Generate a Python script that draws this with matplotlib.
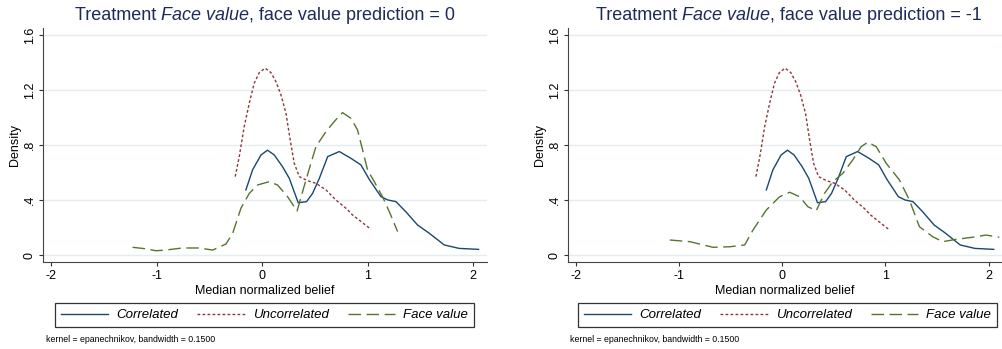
import numpy as np
import matplotlib
matplotlib.use("Agg")
import matplotlib.pyplot as plt

plt.rcParams['font.family'] = ['Liberation Sans', 'DejaVu Sans']

# === Data ===
panel_preds = ["0", "-1"]

corr_x = [-0.155, -0.092, -0.012, 0.05, 0.114, 0.192, 0.256, 0.341, 0.42, 0.477, 0.54,
          0.62, 0.73, 0.84, 0.935, 1.014, 1.125, 1.19, 1.267, 1.36, 1.472, 1.583,
          1.725, 1.867, 2.05]
corr_y = [0.473, 0.618, 0.727, 0.762, 0.727, 0.642, 0.558, 0.38, 0.388, 0.448, 0.555,
          0.715, 0.752, 0.703, 0.655, 0.55, 0.424, 0.40, 0.388, 0.315, 0.218, 0.158,
          0.073, 0.048, 0.041]

unc_x = [-0.256, -0.218, -0.171, -0.123, -0.076, -0.028, 0.028, 0.082, 0.13, 0.177,
         0.225, 0.265, 0.303, 0.351, 0.43, 0.509, 0.604, 0.698, 0.793, 0.856, 0.95, 1.03]
unc_y = [0.57, 0.715, 0.933, 1.103, 1.249, 1.326, 1.358, 1.326, 1.26, 1.164,
         1.03, 0.836, 0.667, 0.57, 0.54, 0.521, 0.473, 0.40, 0.34, 0.291, 0.235, 0.187]

face0_x = [-1.229, -1.1, -1.008, -0.915, -0.758, -0.6, -0.47, -0.344, -0.28, -0.202,
           -0.123, -0.044, 0.066, 0.145, 0.24, 0.33, 0.414, 0.509, 0.604, 0.682,
           0.761, 0.84, 0.903, 0.951, 0.998, 1.062, 1.14, 1.204, 1.283]
face0_y = [0.056, 0.045, 0.031, 0.036, 0.051, 0.051, 0.036, 0.08, 0.158, 0.34,
           0.448, 0.509, 0.533, 0.509, 0.424, 0.32, 0.545, 0.788, 0.897, 0.97,
           1.035, 0.994, 0.909, 0.764, 0.618, 0.533, 0.424, 0.315, 0.17]

face1_x = [-1.091, -0.897, -0.672, -0.51, -0.365, -0.284, -0.155, -0.026, 0.071, 0.167,
           0.248, 0.329, 0.409, 0.49, 0.587, 0.683, 0.765, 0.829, 0.91, 1.007,
           1.136, 1.232, 1.329, 1.458, 1.555, 1.684, 1.845, 1.975, 2.104]
face1_y = [0.109, 0.097, 0.056, 0.06, 0.073, 0.182, 0.327, 0.424, 0.456, 0.424,
           0.351, 0.322, 0.448, 0.533, 0.594, 0.691, 0.788, 0.82, 0.788, 0.667,
           0.545, 0.4, 0.206, 0.133, 0.097, 0.114, 0.129, 0.145, 0.129]

x_ticks = [-2, -1, 0, 1, 2]
y_ticks = [0, 0.4, 0.8, 1.2, 1.6]
y_ticklabels = ["0", ".4", ".8", "1.2", "1.6"]

NAVY = '#1a476f'
MAROON = '#90353b'
GREEN = '#55752f'
TITLE_COL = '#1e2b58'
GRID_COL = '#e4edef'
W, H = 1002.0, 349.0


def draw_panel(fig, rect, face_x, face_y, legend_center, note_x):
    ax = fig.add_axes(rect)
    ax.plot(corr_x, corr_y, color=NAVY, lw=1.0, label='Correlated')
    ax.plot(unc_x, unc_y, color=MAROON, lw=1.0, ls=(0, (2, 1.6)), label='Uncorrelated')
    ax.plot(face_x, face_y, color=GREEN, lw=1.0, ls=(0, (9, 4)), label='Face value')

    ax.set_xlim(-2.075, 2.13)
    ax.set_ylim(-0.053, 1.65)
    ax.set_xticks(x_ticks)
    ax.set_xticklabels([str(t) for t in x_ticks])
    ax.set_yticks(y_ticks)
    ax.set_yticklabels(y_ticklabels, rotation=90, va='center', ha='center')
    ax.tick_params(labelsize=9, length=2.9, width=0.8, color='#333333')
    ax.tick_params(axis='x', pad=2.5)
    ax.tick_params(axis='y', pad=6.7)
    ax.grid(axis='y', color=GRID_COL, lw=1.0)
    ax.set_axisbelow(True)
    for s in ['top', 'right']:
        ax.spines[s].set_visible(False)
    for s in ['left', 'bottom']:
        ax.spines[s].set_color('#444444')
        ax.spines[s].set_linewidth(0.8)

    ax.set_ylabel('Density', fontsize=9)
    ax.yaxis.set_label_coords(-28.3 / (rect[2] * W), 0.5)
    ax.yaxis.label.set_va('center')
    ax.set_xlabel('Median normalized belief', fontsize=9, labelpad=2)

    # === Legend box below the panel ===
    leg = ax.legend(loc='center', bbox_to_anchor=legend_center, bbox_transform=fig.transFigure,
                    ncol=3, frameon=True, fancybox=False,
                    prop={'size': 9.5, 'style': 'italic'}, handlelength=3.6,
                    handletextpad=0.6, columnspacing=1.45, borderpad=0.45, borderaxespad=0)
    leg.get_frame().set_edgecolor('black')
    leg.get_frame().set_linewidth(0.9)

    fig.text(note_x, 1 - 340 / H, 'kernel = epanechnikov, bandwidth = 0.1500',
             fontsize=6.3, va='center', ha='left')
    return ax


def draw_title(fig, cx, pred):
    # title mixes roman and italic text, so build it from pieces
    parts = [('Treatment ', 'normal'), ('Face value', 'italic'),
             (', face value prediction = ' + pred, 'normal')]
    renderer = fig.canvas.get_renderer()
    texts = []
    for s, st in parts:
        t = fig.text(0, 1 - 15 / H, s, fontsize=13, color=TITLE_COL,
                     style=st, va='center', ha='left')
        texts.append(t)
    widths = [t.get_window_extent(renderer).width for t in texts]
    x = cx * fig.bbox.width - sum(widths) / 2
    for t, w in zip(texts, widths):
        t.set_x(x / fig.bbox.width)
        x += w


def main():
    fig = plt.figure(figsize=(10.02, 3.49), dpi=100)

    left_rect = [43.3 / W, 1 - 262.3 / H, (487 - 43.3) / W, (262.3 - 28) / H]
    right_rect = [568.3 / W, 1 - 262.3 / H, (1002 - 568.3) / W, (262.3 - 28) / H]

    draw_panel(fig, left_rect, face0_x, face0_y, (264.5 / W, 1 - 315 / H), 46 / W)
    draw_panel(fig, right_rect, face1_x, face1_y, (787.5 / W, 1 - 315 / H), 570 / W)

    draw_title(fig, 265 / W, panel_preds[0])
    draw_title(fig, 789 / W, panel_preds[1])

    fig.savefig('out.png', dpi=100)


if __name__ == "__main__":
    main()
